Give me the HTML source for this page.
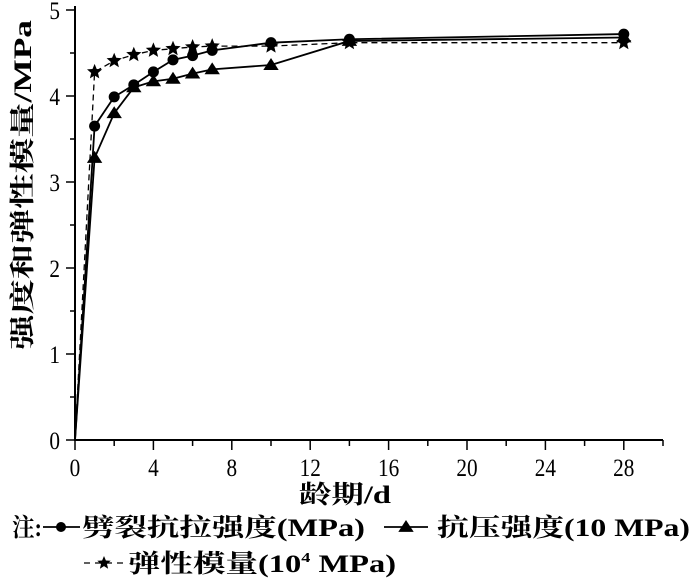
<!DOCTYPE html>
<html><head><meta charset="utf-8"><style>
body{margin:0;background:#fff}
svg text{font-family:"Liberation Serif","Noto Serif CJK SC",serif;fill:#000}
</style></head><body>
<svg id="c" width="700" height="581" viewBox="0 0 700 581"></svg>
<script>
const days=[0,1,2,3,4,5,6,7,10,14,28];
const splitting=[0,3.65,3.99,4.13,4.28,4.42,4.47,4.53,4.62,4.66,4.72];
const compressive=[0,3.28,3.8,4.1,4.17,4.2,4.26,4.31,4.36,4.64,4.68];
const elastic=[0,4.28,4.41,4.48,4.53,4.55,4.57,4.58,4.58,4.62,4.62];
const xTicks=[0,4,8,12,16,20,24,28];
const yTicks=[0,1,2,3,4,5];
const NS='http://www.w3.org/2000/svg';
const svg=document.getElementById('c');
const X=v=>75+v*19.6, Y=v=>440-v*86;
function mk(t,a,p){const e=document.createElementNS(NS,t);for(const k in a)e.setAttribute(k,a[k]);(p||svg).appendChild(e);return e;}
let ax=mk('line',{x1:75,y1:440,x2:663,y2:440,stroke:'#000','stroke-width':2});


let ay=mk('line',{x1:75,y1:6,x2:75,y2:441,stroke:'#000','stroke-width':2});


for(let d=0;d<=30;d+=2){mk('line',{x1:X(d),y1:440,x2:X(d),y2:d%4==0?450:446,stroke:'#000','stroke-width':1.5});}
for(let v=0;v<=5;v+=0.5){mk('line',{x1:75,y1:Y(v),x2:v%1==0?66:70,y2:Y(v),stroke:'#000','stroke-width':1.5});}
xTicks.forEach(t=>{const e=mk('text',{x:X(t),y:476,'text-anchor':'middle','font-size':25,transform:`translate(${X(t)},0) scale(0.85,1) translate(${-X(t)},0)`});e.textContent=t;

});
yTicks.forEach(t=>{const e=mk('text',{x:60,y:Y(t)+9,'text-anchor':'end','font-size':25,transform:'translate(60,0) scale(0.85,1) translate(-60,0)'});e.textContent=t;

});
let xt=mk('text',{x:345,y:503,'text-anchor':'middle','font-size':25,'font-weight':'bold',textLength:92,lengthAdjust:'spacingAndGlyphs'});xt.textContent='龄期/d';


let yt=mk('text',{x:0,y:0,'text-anchor':'middle','font-size':25,'font-weight':'bold',textLength:330,lengthAdjust:'spacingAndGlyphs',transform:'translate(31,185) rotate(-90)'});yt.textContent='强度和弹性模量/MPa';


function star(cx,cy,r,p){let pts=[];for(let i=0;i<10;i++){const rr=i%2?r*0.45:r;const a=-Math.PI/2+i*Math.PI/5;pts.push((cx+rr*Math.cos(a)).toFixed(1)+','+(cy+rr*Math.sin(a)).toFixed(1));}return mk('polygon',{points:pts.join(' '),fill:'#000'},p);}
function tri(cx,cy,r,p){return mk('polygon',{points:`${cx},${cy-r} ${cx-r*1.1},${cy+r*0.7} ${cx+r*1.1},${cy+r*0.7}`,fill:'#000'},p);}
function series(vals,name,dash,marker){
 const g=mk('g',{});
 
 
 const pts=days.map((d,i)=>X(d)+','+Y(vals[i])).join(' ');
 mk('polyline',{points:pts,fill:'none',stroke:'#000','stroke-width':dash?1.3:1.8,'stroke-dasharray':dash?'6,4':'none'},g);
 days.forEach((d,i)=>{if(i==0)return;let m;
  if(marker=='c')m=mk('circle',{cx:X(d),cy:Y(vals[i]),r:5.5,fill:'#000'},g);
  else if(marker=='t')m=tri(X(d),Y(vals[i]),7,g);
  else m=star(X(d),Y(vals[i]),8,g);
  
  });
}
series(elastic,'elastic-modulus-series',true,'s');
series(compressive,'compressive-strength-series',false,'t');
series(splitting,'splitting-strength-series',false,'c');
const lg=mk('g',{});


const L={'font-size':25,'font-weight':'bold',lengthAdjust:'spacingAndGlyphs'};
let t1=mk('text',Object.assign({x:12,y:536,textLength:30},L),lg);t1.textContent='注:';
mk('line',{x1:43,y1:527,x2:80,y2:527,stroke:'#000','stroke-width':1.8},lg);
mk('circle',{cx:61,cy:527,r:5,fill:'#000'},lg);
let t2=mk('text',Object.assign({x:82,y:536,textLength:283},L),lg);t2.textContent='劈裂抗拉强度(MPa)';
mk('line',{x1:384,y1:527,x2:428,y2:527,stroke:'#000','stroke-width':1.8},lg);
tri(406,527,7,lg);
let t3=mk('text',Object.assign({x:437,y:536,textLength:253},L),lg);t3.textContent='抗压强度(10 MPa)';
mk('line',{x1:84,y1:563,x2:124,y2:563,stroke:'#000','stroke-width':1.3,'stroke-dasharray':'6,5'},lg);
star(104,563,7,lg);
let t4=mk('text',{x:128,y:572,'font-size':25,'font-weight':'bold',transform:'translate(128,0) scale(1.3,1) translate(-128,0)'},lg);t4.innerHTML='弹性模量(10<tspan font-size="14" dy="-10">4</tspan><tspan dy="10"> MPa)</tspan>';
[t1,t2,t3,t4].forEach(e=>{
});
</script>
</body></html>
